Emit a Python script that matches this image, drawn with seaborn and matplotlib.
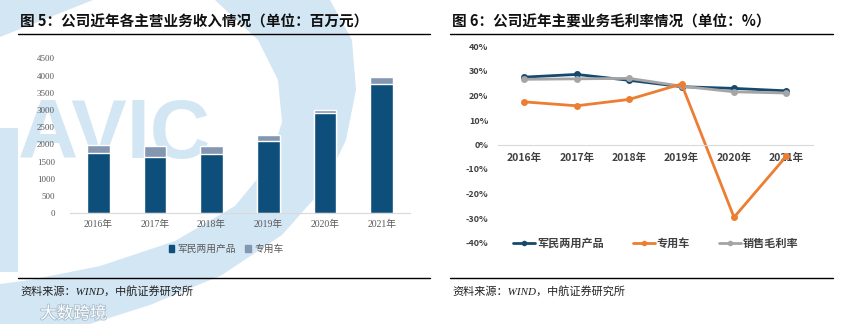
import numpy as np
import pandas as pd
import matplotlib
matplotlib.use("Agg")
import matplotlib.pyplot as plt
import seaborn as sns
from matplotlib.patches import Polygon, Patch
from matplotlib.lines import Line2D
import matplotlib.patheffects as pe

# ---------------- data ----------------
years = ["2016年", "2017年", "2018年", "2019年", "2020年", "2021年"]
rev_dual = [1760, 1640, 1725, 2090, 2910, 3765]      # 军民两用产品
rev_vehicle = [235, 300, 230, 185, 80, 200]          # 专用车
left_yticks = [0, 500, 1000, 1500, 2000, 2500, 3000, 3500, 4000, 4500]

gm_dual = [27.5, 28.6, 26.2, 23.6, 22.9, 21.9]       # 军民两用产品
gm_vehicle = [17.4, 15.8, 18.4, 24.7, -29.7, -4.7]   # 专用车
gm_total = [26.6, 26.8, 27.0, 23.8, 21.5, 21.0]      # 销售毛利率
right_yticks = [-40, -30, -20, -10, 0, 10, 20, 30, 40]

left_labels = ["军民两用产品", "专用车"]
right_labels = ["军民两用产品", "专用车", "销售毛利率"]

# ---------------- style ----------------
sns.set_theme(style="white")
plt.rcParams["font.family"] = ["Noto Sans CJK SC", "DejaVu Sans"]

W, H = 857, 324
fig = plt.figure(figsize=(W / 100, H / 100), dpi=100)
fig.patch.set_facecolor("white")


def fx(px):
    return px / W


def fy(py):
    return 1 - py / H


C_DARK = "#0d4f7a"
C_LIGHT = "#8497b0"
C_BLUE = "#17496f"
C_ORANGE = "#ed7d31"
C_GRAY = "#a5a5a5"
C_TICK = "#595959"
WM = "#d3e6f4"

# ---------------- watermark background (left panel) ----------------
bg = fig.add_axes([0, 0, 1, 1], zorder=0)
bg.set_xlim(0, W)
bg.set_ylim(H, 0)
bg.axis("off")
band = [(215, 0), (330, 0), (352, 40), (356, 90), (346, 140), (322, 190),
        (282, 235), (222, 275), (150, 305), (90, 324), (0, 324), (0, 284),
        (30, 280), (100, 266), (175, 241), (235, 206), (268, 166),
        (282, 122), (278, 80), (258, 40)]
bg.add_patch(Polygon(band, closed=True, facecolor=WM, edgecolor="none"))
bg.add_patch(Polygon([(0, 0), (93, 0), (0, 37)], closed=True, facecolor=WM, edgecolor="none"))
bg.add_patch(Polygon([(0, 128), (18, 128), (18, 272), (0, 272)], closed=True,
                     facecolor=WM, edgecolor="none"))
bg.text(18, 158, "AVIC", fontsize=60, color=WM, fontweight="bold",
        family=["Liberation Sans", "DejaVu Sans"], va="baseline", ha="left")
bg.text(40, 314, "大数跨境", fontsize=12, color="white", va="center", ha="left",
        path_effects=[pe.withStroke(linewidth=1.2, foreground="#a9bccb")])

# ---------------- left chart ----------------
ax1 = fig.add_axes([fx(70), fy(213.3), fx(340), (213.3 - 58.3) / H], zorder=1)
ax1.patch.set_alpha(0)
df1 = pd.DataFrame({
    "year": years,
    "dual": rev_dual,
    "total": [a + b for a, b in zip(rev_dual, rev_vehicle)],
})
sns.barplot(data=df1, x="year", y="total", color=C_LIGHT, width=0.4,
            saturation=1, ax=ax1)
sns.barplot(data=df1, x="year", y="dual", color=C_DARK, width=0.4,
            saturation=1, ax=ax1)
ax1.set_ylim(0, 4500)
ax1.set_xlim(-0.5, 5.5)
ax1.set_yticks(left_yticks)
ax1.set_xlabel("")
ax1.set_ylabel("")
for s in ["top", "right", "left"]:
    ax1.spines[s].set_visible(False)
ax1.spines["bottom"].set_color("#d9d9d9")
ax1.spines["bottom"].set_linewidth(0.8)
ax1.tick_params(axis="both", length=0)
ax1.tick_params(axis="y", pad=11)
ax1.tick_params(axis="x", pad=5)
for t in ax1.get_yticklabels():
    t.set_fontfamily(["Liberation Serif", "Noto Sans CJK SC"])
    t.set_fontsize(6.5)
    t.set_color(C_TICK)
for t in ax1.get_xticklabels():
    t.set_fontfamily(["Liberation Serif", "Noto Sans CJK SC"])
    t.set_fontsize(7)
    t.set_color(C_TICK)
ax1.grid(False)

leg1 = fig.legend([Patch(color=C_DARK), Patch(color=C_LIGHT)], left_labels,
                  loc="center", bbox_to_anchor=(fx(226), fy(249)), ncol=2,
                  frameon=False, handlelength=0.6, handleheight=0.6,
                  handletextpad=0.3, columnspacing=1.0, prop={"size": 7})
for t in leg1.get_texts():
    t.set_color(C_TICK)

# ---------------- right chart ----------------
ax2 = fig.add_axes([fx(498), fy(242.5), fx(314.7), (242.5 - 46.5) / H], zorder=1)
ax2.patch.set_alpha(0)
df2 = pd.DataFrame({"year": years, "dual": gm_dual, "vehicle": gm_vehicle,
                    "total": gm_total})
for col, c in [("dual", C_BLUE), ("total", C_GRAY), ("vehicle", C_ORANGE)]:
    sns.lineplot(data=df2, x="year", y=col, color=c, marker="o", markersize=5,
                 markeredgewidth=0, linewidth=2, sort=False, ax=ax2)
ax2.set_ylim(-40, 40)
ax2.set_xlim(-0.5, 5.5)
ax2.set_yticks(right_yticks)
ax2.set_yticklabels([f"{v}%" for v in right_yticks])
ax2.set_xlabel("")
ax2.set_ylabel("")
for s in ["top", "right", "left"]:
    ax2.spines[s].set_visible(False)
ax2.spines["bottom"].set_position(("data", 0))
ax2.spines["bottom"].set_color("#d9d9d9")
ax2.spines["bottom"].set_linewidth(0.8)
ax2.tick_params(axis="both", length=0)
ax2.tick_params(axis="y", pad=7)
ax2.tick_params(axis="x", pad=6)
for t in ax2.get_yticklabels():
    t.set_fontsize(6.5)
    t.set_fontweight("bold")
    t.set_color("#404040")
for t in ax2.get_xticklabels():
    t.set_fontsize(7.5)
    t.set_fontweight("bold")
    t.set_color("#404040")
ax2.grid(False)

h2 = [Line2D([], [], color=c, marker="o", markersize=4, markeredgewidth=0, linewidth=2)
      for c in [C_BLUE, C_ORANGE, C_GRAY]]
leg2 = fig.legend(h2, right_labels, loc="center left",
                  bbox_to_anchor=(fx(503), fy(243)), ncol=3, frameon=False,
                  handlelength=2.0, handletextpad=0.15, columnspacing=2.6,
                  prop={"size": 8, "weight": "bold"})
for t in leg2.get_texts():
    t.set_color("#404040")

# ---------------- titles, rules, sources ----------------
fig.text(fx(20), fy(22), "图 5：公司近年各主营业务收入情况（单位：百万元）",
         fontsize=10.5, fontweight="bold", va="center", ha="left", color="#111111")
fig.text(fx(452), fy(22), "图 6：公司近年主要业务毛利率情况（单位：%）",
         fontsize=10.5, fontweight="bold", va="center", ha="left", color="#111111")
for x0, x1 in [(18, 430), (450, 833)]:
    fig.add_artist(Line2D([fx(x0), fx(x1)], [fy(33.7)] * 2, color="black", lw=1.0))
    fig.add_artist(Line2D([fx(x0), fx(x1)], [fy(277.7)] * 2, color="black", lw=1.0))
src = "资料来源：WIND，中航证券研究所"
for x in (20, 452):
    fig.text(fx(x), fy(291), src, fontsize=8, style="italic",
             family=["Liberation Serif", "Noto Sans CJK SC"],
             va="center", ha="left", color="#222222")

fig.savefig("out.png", dpi=100)
